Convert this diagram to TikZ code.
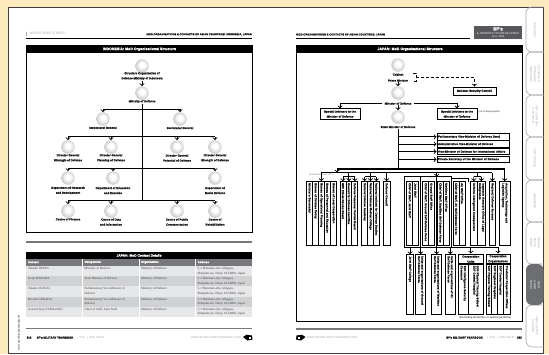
\documentclass[tikz,border=0pt]{standalone}
\usepackage{fontspec}
\setmainfont{Liberation Serif}
\setsansfont{Liberation Sans}[BoldFeatures={FakeBold=0.4}]
\definecolor{creamedge}{HTML}{FDEBBF}
\definecolor{rowa}{HTML}{E6E7E8}
\definecolor{rowb}{HTML}{D0D1D3}
\definecolor{headgray}{HTML}{77787B}
\definecolor{tabgray}{HTML}{6D6E71}
\definecolor{softgray}{HTML}{A8A9AC}
\definecolor{inkgray}{HTML}{1A1A1C}
\pgfdeclareradialshading{pearl}{\pgfpoint{0bp}{5bp}}{color(0bp)=(white);color(9bp)=(white);color(22bp)=(black!16);color(36bp)=(black!34);color(50bp)=(black!12)}
\tikzset{
  ball/.style={circle,shading=pearl,minimum size=13.5pt,inner sep=0pt},
  lbl/.style={font=\sffamily\bfseries\fontsize{2.9}{5}\selectfont,align=center,inner sep=0.5pt,text=inkgray},
  link/.style={draw=black,line width=0.9pt},
  panelhead/.style={font=\sffamily\bfseries\fontsize{3.6}{4}\selectfont,text=white},
  boxb/.style={draw=black,line width=1pt,fill=white,font=\sffamily\bfseries\fontsize{2.9}{5}\selectfont,align=center,inner sep=0pt,text=inkgray},
  stack/.style={boxb,minimum width=72pt,minimum height=6.6pt,text width=70pt,align=left},
  col/.style={draw=black,line width=0.9pt,fill=white,rotate=-90,inner ysep=0pt,inner xsep=1.5pt,minimum width=63.4pt,text width=60.4pt,minimum height=#1,
    font=\sffamily\bfseries\fontsize{2.9}{3.3}\selectfont,align=left,text=inkgray},
  lowcol/.style={col=#1,minimum width=59.6pt,text width=56.6pt},
  shortcol/.style={col=#1,minimum width=50pt,text width=47pt},
  cell/.style={font=\fontsize{3.2}{4.2}\selectfont,anchor=north west,align=left,inner sep=0pt,text=inkgray!85},
  cellhead/.style={font=\sffamily\bfseries\fontsize{2.8}{3}\selectfont,anchor=west,inner sep=0pt,text=white},
  toptext/.style={font=\sffamily\bfseries\fontsize{2.7}{3}\selectfont,inner sep=0pt,text=inkgray},
  foot/.style={font=\sffamily\fontsize{2.8}{3}\selectfont,inner sep=0pt,text=softgray},
  tabtext/.style={font=\sffamily\fontsize{2.8}{3.8}\selectfont,rotate=90,align=center,inner sep=0pt,text=softgray},
  tabline/.style={draw=softgray,line width=0.6pt,rounded corners=6pt}
}
\begin{document}
\begin{tikzpicture}[x=1pt,y=-1pt]
  \useasboundingbox (0,0) rectangle (549,354);
  \fill[creamedge] (0,0) rectangle (549,354);
  \draw[fill=white,draw=black!75,line width=0.8pt] (8,7) rectangle (543.5,353.4);

  % tabs
  \draw[tabline] (543.5,7) -- (526,7) -- (526,52) -- (543.5,52);
  \draw[tabline] (543.5,52) -- (526,52) -- (526,95) -- (543.5,95);
  \draw[tabline] (543.5,95) -- (526,95) -- (526,137) -- (543.5,137);
  \draw[tabline] (543.5,137) -- (526,137) -- (526,180) -- (543.5,180);
  \draw[tabline] (543.5,180) -- (526,180) -- (526,222) -- (543.5,222);
  \draw[tabline] (543.5,222) -- (526,222) -- (526,264) -- (543.5,264);
  \draw[tabline] (543.5,305) -- (526,305) -- (526,347) -- (543.5,347);
  \fill[tabgray,rounded corners=6pt] (543.5,264) -- (526,264) -- (526,305) -- (543.5,305) -- cycle;
  \node[tabtext] (tabA) at (535,30) {CONTENTS};
  \node[tabtext] (tabB) at (535,74) {WEAPONS\\EQUIPMENT\\\& VEHICLES};
  \node[tabtext] (tabC) at (535,116) {STATE OF A\\PERSPECTIVES};
  \node[tabtext] (tabD) at (535,158) {TECHNOLOGY};
  \node[tabtext] (tabE) at (535,201) {NEWSWIRE};
  \node[tabtext] (tabF) at (535,243) {INDIAN\\OCEAN\\REGION};
  \node[tabtext,text=white] (tabG) at (535,285) {ASIAN\\WHO'S\\WHO};
  \node[tabtext] (tabH) at (535,326) {INDEX TO\\ADVERTISERS};

  % left page top
  \fill[softgray] (26,31.5) rectangle (27,36);
  \node[foot,anchor=west,font=\fontsize{3.8}{4}\selectfont] (lefttag) at (29.5,33.5) {ASIAN WHO'S WHO};
  \node[toptext,anchor=east] (lefttop) at (252,34.5) {MOD ORGANISATIONS \& CONTACTS OF ASIAN COUNTRIES: INDONESIA, JAPAN};
  \draw[line width=0.8pt] (26,38.5) -- (252,38.5);

  % Indonesia panel
  \draw[line width=0.9pt] (26,45) rectangle (252,232.3);
  \fill[black] (26,45) rectangle (252,53);
  \node[panelhead] (indhead) at (139.5,49.2) {INDONESIA: MoD Organisational Structure};

  \node[ball] (indA) at (142,66) {};
  \node[lbl] (indAl) at (142,76) {Structure Organisation of\\Defence Ministry of Indonesia};
  \node[ball] (indB) at (142,93) {};
  \node[lbl] (indBl) at (142,101.5) {Ministry of Defence};
  \node[ball] (indC1) at (103,119) {};
  \node[lbl] (indC1l) at (103,128) {Inspectorat General};
  \node[ball] (indC2) at (180,119) {};
  \node[lbl] (indC2l) at (180,128) {Secretariat General};
  \node[ball] (indD1) at (68,147) {};
  \node[lbl] (indD1l) at (68,158) {Director General\\Strategic of Defence};
  \node[ball] (indD2) at (111,147) {};
  \node[lbl] (indD2l) at (111,158) {Director General\\Planning of Defence};
  \node[ball] (indD3) at (177,147) {};
  \node[lbl] (indD3l) at (177,158) {Director General\\Potential of Defence};
  \node[ball] (indD4) at (215,147) {};
  \node[lbl] (indD4l) at (215,158) {Director General\\Strength of Defence};
  \node[ball] (indE1) at (68,178) {};
  \node[lbl] (indE1l) at (68,190.5) {Department of Research\\and Development};
  \node[ball] (indE2) at (113,178) {};
  \node[lbl] (indE2l) at (113,190.5) {Department of Education\\and Exercise};
  \node[ball] (indE3) at (215,178) {};
  \node[lbl] (indE3l) at (215,190.5) {Department of\\Media Defence};
  \node[ball] (indF1) at (68,211) {};
  \node[lbl] (indF1l) at (68,219.3) {Centre of Finance};
  \node[ball] (indF2) at (111,211) {};
  \node[lbl] (indF2l) at (111,222) {Centre of Data\\and Information};
  \node[ball] (indF3) at (177,211) {};
  \node[lbl] (indF3l) at (177,222) {Centre of Public\\Communication};
  \node[ball] (indF4) at (215,211) {};
  \node[lbl] (indF4l) at (215,222) {Centre of\\Rehabilitation};

  \coordinate (barA1) at (103,109);
  \coordinate (barA2) at (180,109);
  \coordinate (barB1) at (68,136.5);
  \coordinate (barB2) at (111,136.5);
  \coordinate (barB3) at (177,136.5);
  \coordinate (barB4) at (215,136.5);
  \coordinate (barC1) at (68,168.5);
  \coordinate (barC2) at (113,168.5);
  \coordinate (barC3) at (215,168.5);
  \coordinate (barD1) at (68,200.7);
  \coordinate (barD2) at (111,200.7);
  \coordinate (barD3) at (177,200.7);
  \coordinate (barD4) at (215,200.7);
  \coordinate (stemI) at (142,200.7);

  \draw[link,->] (indAl) -- (indB);
  \draw[link] (indBl) -- (stemI);
  \draw[link] (barA1) -- (barA2);
  \draw[link] (barB1) -- (barB4);
  \draw[link] (barC1) -- (barC3);
  \draw[link] (barD1) -- (barD4);
  \draw[link,->] (barA1) -- (indC1);
  \draw[link,->] (barA2) -- (indC2);
  \draw[link,->] (barB1) -- (indD1);
  \draw[link,->] (barB2) -- (indD2);
  \draw[link,->] (barB3) -- (indD3);
  \draw[link,->] (barB4) -- (indD4);
  \draw[link,->] (barC1) -- (indE1);
  \draw[link,->] (barC2) -- (indE2);
  \draw[link,->] (barC3) -- (indE3);
  \draw[link,->] (barD1) -- (indF1);
  \draw[link,->] (barD2) -- (indF2);
  \draw[link,->] (barD3) -- (indF3);
  \draw[link,->] (barD4) -- (indF4);

  % contact table
  \draw[headgray,line width=1.6pt] (26,241.7) -- (252,241.7);
  \fill[black] (26,252.3) rectangle (252,258.5);
  \node[panelhead,font=\sffamily\bfseries\fontsize{3.3}{4}\selectfont] (tabhead) at (139,255.4) {JAPAN: MoD Contact Details};
  \fill[headgray] (26,258.9) rectangle (82,265.5);
  \fill[headgray] (83,258.9) rectangle (138.5,265.5);
  \fill[headgray] (139.5,258.9) rectangle (195,265.5);
  \fill[headgray] (196,258.9) rectangle (252,265.5);
  \fill[rowa] (26,266) rectangle (82,276);
  \fill[rowa] (83,266) rectangle (138.5,276);
  \fill[rowa] (139.5,266) rectangle (195,276);
  \fill[rowa] (196,266) rectangle (252,276);
  \fill[rowb] (26,276) rectangle (82,286);
  \fill[rowb] (83,276) rectangle (138.5,286);
  \fill[rowb] (139.5,276) rectangle (195,286);
  \fill[rowb] (196,276) rectangle (252,286);
  \fill[rowa] (26,286) rectangle (82,296.7);
  \fill[rowa] (83,286) rectangle (138.5,296.7);
  \fill[rowa] (139.5,286) rectangle (195,296.7);
  \fill[rowa] (196,286) rectangle (252,296.7);
  \fill[rowb] (26,296.7) rectangle (82,306.7);
  \fill[rowb] (83,296.7) rectangle (138.5,306.7);
  \fill[rowb] (139.5,296.7) rectangle (195,306.7);
  \fill[rowb] (196,296.7) rectangle (252,306.7);
  \fill[rowa] (26,306.7) rectangle (82,317);
  \fill[rowa] (83,306.7) rectangle (138.5,317);
  \fill[rowa] (139.5,306.7) rectangle (195,317);
  \fill[rowa] (196,306.7) rectangle (252,317);
  \node[cellhead] (hA) at (28,262.2) {Contact};
  \node[cellhead] (hB) at (84.5,262.2) {Designation};
  \node[cellhead] (hC) at (141,262.2) {Organisation};
  \node[cellhead] (hD) at (197.5,262.2) {Address};
  \node[cell] (r1a) at (28,267.5) {Takeshi IWAYA};
  \node[cell] (r1b) at (84.5,267.5) {Minister of Defence};
  \node[cell] (r1c) at (141,267.5) {Ministry of Defence};
  \node[cell] (r1d) at (197.5,267.5) {5-1 Honmura-cho, Ichigaya,\\Shinjuku-ku, Tokyo 162-8801, Japan};
  \node[cell] (r2a) at (28,277.5) {Kenji HARADA};
  \node[cell] (r2b) at (84.5,277.5) {State Minister of Defence};
  \node[cell] (r2c) at (141,277.5) {Ministry of Defence};
  \node[cell] (r2d) at (197.5,277.5) {5-1 Honmura-cho, Ichigaya,\\Shinjuku-ku, Tokyo 162-8801, Japan};
  \node[cell] (r3a) at (28,287.5) {Takako SUZUKI};
  \node[cell] (r3b) at (84.5,287.5) {Parliamentary Vice-Minister of\\Defence};
  \node[cell] (r3c) at (141,287.5) {Ministry of Defence};
  \node[cell] (r3d) at (197.5,287.5) {5-1 Honmura-cho, Ichigaya,\\Shinjuku-ku, Tokyo 162-8801, Japan};
  \node[cell] (r4a) at (28,297.8) {Hiroshi UEKADA};
  \node[cell] (r4b) at (84.5,297.8) {Parliamentary Vice-Minister of\\Defence};
  \node[cell] (r4c) at (141,297.8) {Ministry of Defence};
  \node[cell] (r4d) at (197.5,297.8) {5-1 Honmura-cho, Ichigaya,\\Shinjuku-ku, Tokyo 162-8801, Japan};
  \node[cell] (r5a) at (28,307.8) {General Koji YAMAZAKI};
  \node[cell] (r5b) at (84.5,307.8) {Chief of Staff, Joint Staff};
  \node[cell] (r5c) at (141,307.8) {Ministry of Defence};
  \node[cell] (r5d) at (197.5,307.8) {5-1 Honmura-cho, Ichigaya,\\Shinjuku-ku, Tokyo 162-8801, Japan};

  % left page bottom
  \node[foot,rotate=90,anchor=east,text=inkgray,font=\sffamily\fontsize{2.6}{3}\selectfont] (leftside) at (19,315) {www.spsmilitaryyearbook.com};
  \fill[softgray] (18,319.7) rectangle (20.4,322.2);
  \draw[headgray,line width=1.1pt] (26,328.7) -- (252,328.7);
  \node[toptext,anchor=west,font=\sffamily\bfseries\fontsize{2.8}{3}\selectfont] (leftpg) at (26.5,337.6) {316};
  \node[toptext,anchor=west,font=\sffamily\bfseries\fontsize{2.8}{3}\selectfont] (leftbook) at (36.5,337.6) {SP's MILITARY YEARBOOK};
  \node[foot,anchor=west] (leftissue) at (77,337.6) {|\ \ 2011\ \ |\ \ ANN ISSUE};
  \node[foot,anchor=east] (leftweb) at (241,337.6) {WWW.SPSMILITARYYEARBOOK.COM};
  \fill[black] (243,337) -- (246.5,334.7) -- (252,335.5) -- (252.5,339.5) -- (247.5,340.5) -- cycle;
  \fill[white] (248.6,337) rectangle (250.8,338.5);

  % right page top
  \node[toptext,anchor=west] (righttop) at (296,34.5) {MOD ORGANISATIONS \& CONTACTS OF ASIAN COUNTRIES: JAPAN};
  \draw[line width=0.8pt] (296,38.5) -- (470,38.5);
  \fill[tabgray!80!black] (474,26) rectangle (522,38.7);
  \node[font=\sffamily\bfseries\fontsize{4.6}{5}\selectfont,text=white,inner sep=0pt] (logoA) at (498,28.9) {SP's};
  \node[font=\fontsize{3.1}{4}\selectfont,text=white,inner sep=0pt] (logoB) at (498,33.5) {A JOURNEY OF EXCELLENCE};
  \node[font=\fontsize{2.9}{4}\selectfont,text=white,inner sep=0pt] (logoC) at (498,36.8) {since 1964};

  % Japan panel
  \draw[line width=0.9pt] (296.5,45) rectangle (522,321.7);
  \fill[black] (296.5,45) rectangle (522,53);
  \node[panelhead] (jpnhead) at (410,49.2) {JAPAN: MoD Organisational Structure};

  \node[ball] (cab) at (398,65) {};
  \node[lbl] (cabl) at (398,74.5) {Cabinet};
  \node[lbl] (pm) at (398,80.5) {Prime Minister};
  \node[ball] (mod) at (398,93) {};
  \node[lbl,inner xsep=2pt,fill=white] (modl) at (398,103.5) {Minister of Defence};
  \node[ball] (smod) at (398,117) {};
  \node[lbl] (smodl) at (398,127) {State Minister of Defence};
  \node[boxb,minimum width=43pt,minimum height=8pt] (nsc) at (474.5,91) {National Security Council};
  \node[boxb,minimum width=40pt,minimum height=10.4pt] (advA) at (340,114) {Special Advisers to the\\Minister of Defence};
  \node[boxb,minimum width=40pt,minimum height=10.4pt] (advB) at (457,114) {Special Advisers to the\\Minister of Defence};
  \node[foot,anchor=west,text=inkgray,font=\sffamily\fontsize{2.4}{3}\selectfont] (advnote) at (478.5,112) {(up to three people)};
  \node[stack] (vmA) at (473,136.8) {Parliamentary Vice-Minister of Defence (two)};
  \node[stack] (vmB) at (473,144) {Administrative Vice-Minister of Defence};
  \node[stack] (vmC) at (473,151.6) {Vice-Minister of Defence for International Affairs};
  \node[stack] (vmD) at (473,159.4) {Private Secretary of the Minister of Defence};

  \coordinate (brkA) at (413,73);
  \coordinate (brkB) at (416,73);
  \coordinate (brkC) at (416,81);
  \coordinate (brkD) at (413,81);
  \coordinate (brkM) at (416,77);
  \draw[link,densely dashed] (brkA) -- (brkB) -- (brkC) -- (brkD);
  \draw[link,densely dashed,->] (brkM) -| (nsc.north);
  \draw[link,->] (pm) -- (mod);
  \draw[link,->] (modl.west) -| (advA.north);
  \draw[link,->] (modl.east) -| (advB.north);
  \draw[link,->] (modl) -- (smod);

  % stem and buses
  \coordinate (stemJ) at (398,168.5);
  \coordinate (stA) at (398,136.8);
  \coordinate (stB) at (398,144);
  \coordinate (stC) at (398,151.6);
  \coordinate (stD) at (398,159.4);
  \coordinate (busAw) at (337,169);
  \coordinate (busAe) at (504.7,169);
  \coordinate (busBw) at (321.3,172.5);
  \coordinate (busBe) at (492.4,172.5);
  \coordinate (busBm) at (436.7,172.5);
  \coordinate (busBn) at (337,172.5);
  \coordinate (frameT) at (436.7,176.7);
  \draw[link] (smodl) -- (stemJ);
  \draw[link,->] (stA) -- (vmA);
  \draw[link,->] (stB) -- (vmB);
  \draw[link,->] (stC) -- (vmC);
  \draw[link,->] (stD) -- (vmD);
  \draw[link,line width=1.1pt] (busAw) -- (busAe);
  \draw[link] (busBw) -- (busBe);
  \draw[link,->] (busAw) -- (busBn);

  % internal bureaus
  \node[foot,text=headgray,font=\sffamily\fontsize{2.4}{3}\selectfont,anchor=west] (intnote) at (309,175) {(Internal bureaus etc.)};
  \node[col=6pt] (buA) at (309.7,213.3) {Minister's Secretariat};
  \node[col=6pt] (buB) at (315.5,213.3) {Bureau of Defense Policy};
  \node[col=6pt] (buC) at (321.3,213.3) {Bureau of Operational Planning};
  \node[col=6pt] (buD) at (327.3,213.3) {Bureau of Personnel and Education};
  \node[col=6pt] (buE) at (333.5,213.3) {Bureau of Local Cooperation};
  \node[col=5.9pt] (rvA) at (343,213.3) {SDF Ethics Review Board};
  \node[col=5.9pt] (rvB) at (348.9,213.3) {Council for Defense Facilities};
  \node[col=5.9pt] (rvC) at (354.8,213.3) {Defense Personnel Review Board};
  \node[col=5.9pt] (acA) at (364.6,213.3) {National Defense Academy};
  \node[col=5.9pt] (acB) at (370.5,213.3) {National Defense Medical College};
  \node[col=5.9pt] (acC) at (376.4,213.3) {National Institute for Defense Studies};
  \node[col=6.7pt] (dc) at (386.7,213.3) {Defense Council};
  \coordinate (smA) at (343,176.6);
  \coordinate (smB) at (348.9,176.6);
  \coordinate (smC) at (354.8,176.6);
  \coordinate (smD) at (364.6,176.6);
  \coordinate (smE) at (370.5,176.6);
  \coordinate (smF) at (376.4,176.6);
  \coordinate (smG) at (473.7,176.6);
  \coordinate (smH) at (477.5,176.6);
  \coordinate (smI) at (481.3,176.6);
  \coordinate (smJ) at (348.9,172.5);
  \coordinate (smK) at (370.5,172.5);
  \coordinate (smL) at (477.5,172.5);
  \coordinate (smM) at (386.7,172.5);
  \draw[link,->] (busBw) -- (buC.west);
  \draw[link] (smJ) -- (smB);
  \draw[link] (smK) -- (smE);
  \draw[link] (smL) -- (smH);
  \draw[link] (smA) -- (smC);
  \draw[link] (smD) -- (smF);
  \draw[link] (smG) -- (smI);
  \draw[link,->] (smA) -- (rvA.west);
  \draw[link,->] (smB) -- (rvB.west);
  \draw[link,->] (smC) -- (rvC.west);
  \draw[link,->] (smD) -- (acA.west);
  \draw[link,->] (smE) -- (acB.west);
  \draw[link,->] (smF) -- (acC.west);
  \draw[link,->] (smM) -- (dc.west);

  % staff offices
  \draw[link] (404,176.7) rectangle (420.7,247.3);
  \draw[link] (420.7,176.7) rectangle (436.7,247.3);
  \draw[link] (436.7,176.7) rectangle (451,247.3);
  \draw[link] (451,178.4) -- (468,178.4) -- (468,181.7);
  \node[col=5.8pt] (stfA) at (409.6,213.3) {Chief of Staff, Joint Staff};
  \node[col=5.8pt] (stfB) at (415.4,213.3) {Joint Staff};
  \node[col=5.8pt] (stfC) at (425.6,213.3) {Chief of Staff, Ground Self-Defense Force};
  \node[col=5.8pt] (stfD) at (431.4,213.3) {Ground Staff Office};
  \node[col=6pt] (stfE) at (440.3,213.3) {Chief of Staff, Maritime Self-Defense Force};
  \node[col=6pt] (stfF) at (446.3,213.3) {Maritime Staff Office};
  \node[col=6pt] (stfG) at (456,213.3) {Chief of Staff, Air Self-Defense Force};
  \node[col=6pt] (stfH) at (462,213.3) {Air Staff Office};
  \node[col=7.6pt] (ihq) at (473.8,213.3) {Defense Intelligence Headquarters};
  \node[col=7.6pt] (ins) at (481.4,213.3) {Inspector General's Office of Legal\\Compliance};
  \node[col=6.7pt] (rdb) at (492.4,213.3) {Regional Defense Bureaus};
  \node[col=10.7pt] (atl) at (504.7,213.3) {Acquisition, Technology and\\Logistics Agency};
  \draw[link,->] (busBm) -- (frameT);
  \draw[link,->] (smG) -- (ihq.west);
  \draw[link,->] (smI) -- (ins.west);
  \draw[link,->] (busBe) -- (rdb.west);
  \draw[link,->] (busAe) -- (atl.west);

  % lower units
  \node[lowcol=6.6pt] (lowA) at (410,284.5) {Joint Staff College};
  \node[lowcol=10pt] (lowB) at (420.7,284.5) {Units and organisations of Ground\\Self-Defense Force};
  \node[lowcol=10pt] (lowC) at (436.7,284.5) {Units and organisations of Maritime\\Self-Defense Force};
  \node[lowcol=10pt] (lowD) at (450.3,284.5) {Units and organisations of Air\\Self-Defense Force};
  \node[boxb,minimum width=25pt,minimum height=10pt] (coopU) at (470.8,259) {Cooperation\\Units};
  \node[boxb,minimum width=24pt,minimum height=10pt] (coopO) at (498,259) {Cooperation\\Organisations};
  \draw[line width=1.2pt] (458.3,264) -- (483.3,264);
  \draw[line width=1.2pt] (486,264) -- (510,264);
  \node[shortcol=10pt] (cuA) at (463.3,289.2) {SDF Intelligence Security\\Command};
  \node[shortcol=15pt] (cuB) at (475.8,289.2) {SDF Physical Training School\\SDF Central Hospital};
  \node[shortcol=5.7pt] (coA) at (488.85,289.2) {SDF Physical Training School};
  \node[shortcol=5.7pt] (coB) at (494.55,289.2) {SDF Regional Hospitals};
  \node[shortcol=5.9pt] (coC) at (500.3,289.2) {SDF Central Hospital};
  \node[shortcol=6.7pt] (coD) at (506.65,289.2) {Provincial Cooperation Offices};
  \coordinate (lowbusW) at (404,247.3);
  \coordinate (lowbusE) at (498,247.3);
  \coordinate (lowdA) at (410,247.3);
  \coordinate (lowdB) at (420.7,247.3);
  \coordinate (lowdC) at (436.7,247.3);
  \coordinate (lowdD) at (450.3,247.3);
  \coordinate (lowdE) at (470.8,247.3);
  \draw[link] (lowbusW) -- (lowbusE);
  \draw[link,->] (lowdA) -- (lowA.west);
  \draw[link,->] (lowdB) -- (lowB.west);
  \draw[link,->] (lowdC) -- (lowC.west);
  \draw[link,->] (lowdD) -- (lowD.west);
  \draw[link,->] (lowdE) -- (coopU.north);
  \draw[link,->] (lowbusE) -- (coopO.north);
  \node[foot,anchor=east,text=inkgray,font=\sffamily\fontsize{2.8}{3}\selectfont] (lownote) at (511.5,317.5) {(Excluding temporary or special positions)};

  % right page bottom
  \draw[headgray,line width=1.1pt] (296,329) -- (522,329);
  \fill[black] (305.5,337) -- (302,334.7) -- (296.5,335.5) -- (296,339.5) -- (301,340.5) -- cycle;
  \fill[white] (298,337) rectangle (300,338.5);
  \node[foot,anchor=west] (rightweb) at (307,337.6) {WWW.SPSMILITARYYEARBOOK.COM};
  \node[toptext,anchor=west,font=\sffamily\bfseries\fontsize{2.8}{3}\selectfont] (rightbook) at (446,337.6) {SP's MILITARY YEARBOOK};
  \node[foot,anchor=west] (rightissue) at (487,337.6) {|\ \ 2011\ \ |\ \ ANN ISSUE\ \ |};
  \node[toptext,anchor=east,font=\sffamily\bfseries\fontsize{2.8}{3}\selectfont] (rightpg) at (522,337.6) {335};
\end{tikzpicture}
\end{document}
